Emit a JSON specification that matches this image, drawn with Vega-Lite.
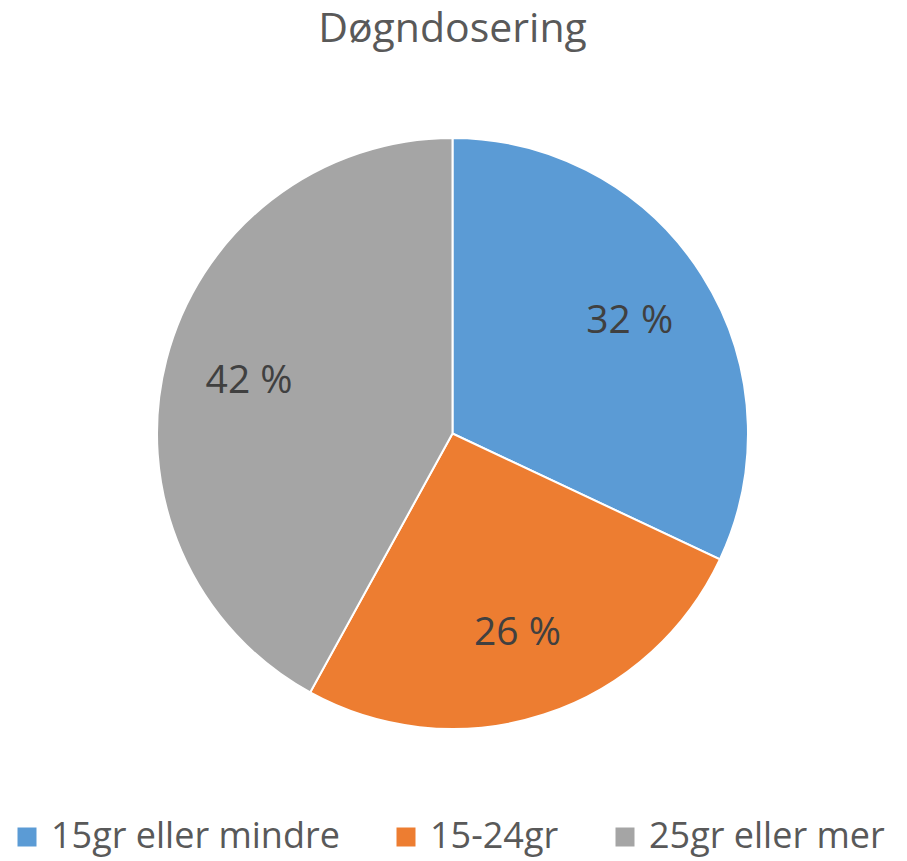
{
  "$schema": "https://vega.github.io/schema/vega-lite/v6.json",
  "width": 905,
  "height": 727,
  "autosize": {"type": "none"},
  "padding": {"left": 0, "top": 70, "right": 2, "bottom": 64},
  "background": "white",
  "title": {
    "text": "Døgndosering",
    "font": "Open Sans",
    "fontSize": 41,
    "fontWeight": "normal",
    "color": "#595959",
    "anchor": "middle",
    "frame": "group",
    "offset": -13,
    "baseline": "alphabetic"
  },
  "data": {
    "values": [
      {"kategori": "15gr eller mindre", "andel": 32, "etikett": "32 %", "nr": 1},
      {"kategori": "15-24gr", "andel": 26, "etikett": "26 %", "nr": 2},
      {"kategori": "25gr eller mer", "andel": 42, "etikett": "42 %", "nr": 3}
    ]
  },
  "encoding": {
    "theta": {"field": "andel", "type": "quantitative", "stack": true},
    "order": {"field": "nr", "type": "quantitative"},
    "color": {
      "field": "kategori",
      "type": "nominal",
      "scale": {
        "domain": ["15gr eller mindre", "15-24gr", "25gr eller mer"],
        "range": ["#5B9BD5", "#ED7D31", "#A5A5A5"]
      },
      "legend": {
        "title": null,
        "orient": "none",
        "direction": "horizontal",
        "legendX": 9,
        "legendY": 749,
        "padding": 0,
        "symbolType": "square",
        "symbolSize": 361,
        "symbolStrokeWidth": 0,
        "labelFont": "Open Sans",
        "labelFontSize": 36,
        "labelColor": "#595959",
        "labelOffset": 6,
        "labelLimit": 500,
        "columnPadding": 48
      }
    }
  },
  "layer": [
    {"mark": {"type": "arc", "outerRadius": 295.5, "stroke": "white", "strokeWidth": 2}},
    {
      "mark": {"type": "text", "radius": 210, "font": "Open Sans", "fontSize": 39, "fill": "#404040"},
      "encoding": {"text": {"field": "etikett", "type": "nominal"}, "color": {"value": "#404040"}}
    }
  ]
}
